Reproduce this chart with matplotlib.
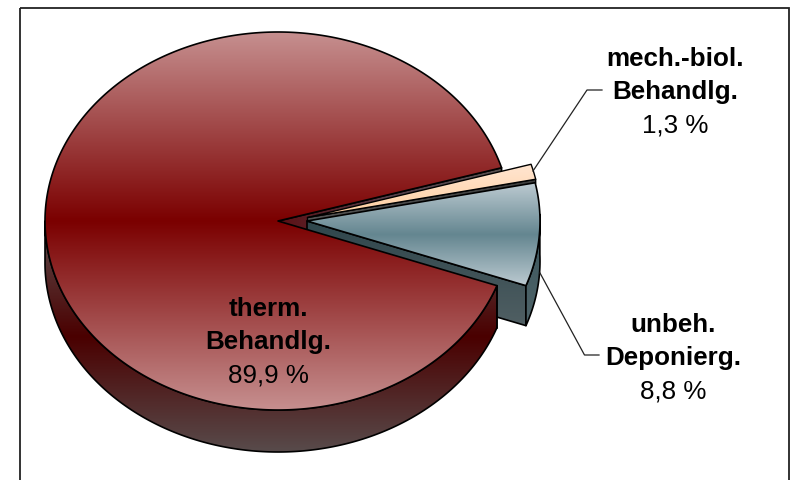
import numpy as np
import matplotlib
matplotlib.use("Agg")
import matplotlib.pyplot as plt
from matplotlib.colors import LinearSegmentedColormap as LSC
from matplotlib.patches import Polygon, Rectangle

plt.rcParams['font.family'] = ['Liberation Sans', 'DejaVu Sans']

# data
categories = ["unbeh.\nDeponierg.", "mech.-biol.\nBehandlg.", "therm.\nBehandlg."]
values = [8.8, 1.3, 89.9]
value_labels = ["8,8 %", "1,3 %", "89,9 %"]

START = -20.0
RX, RY = 233.0, 189.0
CENTERS = [(307, 221), (307.5, 217.5), (278, 221)]
DEPTH = [40, 4, 42]
LABEL_XY = [(673, 324.5), (675.5, 58.5), (268, 309)]

fig = plt.figure(figsize=(7.92, 4.8), dpi=100)
ax = fig.add_axes([0, 0, 1, 1])
ax.axis("off")


def arc(c, a0, a1, rx=RX, ry=RY):
    t = np.radians(np.linspace(a0, a1, max(int(abs(a1 - a0)) * 2, 8)))
    return np.column_stack([c[0] + rx * np.cos(t), c[1] - ry * np.sin(t)])


def shape(pts, colors, extent=None, lw=1.2, horizontal=False, z=1):
    pts = np.asarray(pts)
    if extent is None:
        extent = (pts[:, 0].min(), pts[:, 0].max(), pts[:, 1].max(), pts[:, 1].min())
    cmap = LSC.from_list("g", colors)
    g = np.linspace(0, 1, 256)
    g = g.reshape(1, -1) if horizontal else g.reshape(-1, 1)
    im = ax.imshow(g, cmap=cmap, extent=extent, aspect="auto", zorder=z,
                   origin="upper", interpolation="bilinear")
    clip = Polygon(pts, closed=True, transform=ax.transData, fc="none", ec="none")
    ax.add_patch(clip)
    im.set_clip_path(clip)
    ax.add_patch(Polygon(pts, closed=True, fc="none", ec="black", lw=lw, zorder=z,
                         joinstyle="round"))


def extruded(top, d):
    return np.vstack([top, (top + [0, d])[::-1]])


# angles from the values
edges = START + np.cumsum([0] + values) * 3.6
blue = (edges[0], edges[1])
peach = (edges[1], edges[2])
main = (edges[2], edges[3])
cb, cp, cm = CENTERS
db, dp, dm = DEPTH

# upper cut face of the big slice (visible through the notch)
tip = arc(cm, main[0], main[0] + 0.01)[0]
cut = extruded(np.array([cm, tip], float), dm)
shape(cut, ["#5c0f14", "#55404a", "#585050"], horizontal=True, z=1,
      extent=(cm[0], tip[0], cm[1] + dm, tip[1]))

# peach slice
p_tips = arc(cp, peach[0], peach[1])
p_top = np.vstack([[cp], p_tips])
p_front = extruded(np.array([cp, p_tips[0]], float), dp)
shape(p_front, ["#3c3c3c", "#555555"], z=2, lw=1.0)
shape(p_top, ["#ffe6d2", "#ffcf9f"], z=3, lw=1.0,
      extent=(cp[0], p_tips[:, 0].max(), cp[1], p_tips[:, 1].min()))

# blue slice sides
b_arc = arc(cb, blue[0], blue[1])
b_top = np.vstack([[cb], b_arc])
b_front = extruded(np.array([cb, b_arc[0]], float), db)
shape(b_front, ["#2f464c", "#505f63"], z=4)
b_outer = arc(cb, blue[0], min(blue[1], 2.0))
shape(extruded(b_outer, db), ["#39545b", "#4f6469"], z=4)

# big slice outer wall
m_front = arc(cm, 180, main[1])
shape(extruded(m_front, dm), ["#5f5050", "#4a0000", "#584b4b"], z=5)
ax.plot([m_front[-1, 0]] * 2, [m_front[-1, 1], m_front[-1, 1] + dm], color="black", lw=1.2, zorder=5)

# big slice top
m_top = np.vstack([[cm], arc(cm, main[0], main[1])])
shape(m_top, ["#c68f8f", "#7b0000", "#c68f8f"], z=6,
      extent=(cm[0] - RX, cm[0] + RX, cm[1] + RY, cm[1] - RY))

# blue top
shape(b_top, ["#bccad1", "#648690", "#bccad1"], z=7,
      extent=(cb[0], cb[0] + RX, b_arc[:, 1].max(), b_arc[:, 1].min()))

# leader lines
ax.plot([533, 587, 602], [171, 90, 90], color="#222222", lw=0.9, zorder=8)
ax.plot([540, 584.5, 599], [273, 355, 355], color="#222222", lw=0.9, zorder=8)

# labels
for cat, vl, (x, y) in zip(categories, value_labels, LABEL_XY):
    a, b = cat.split("\n")
    ax.text(x, y, a, ha="center", va="center", fontsize=18.7, fontweight="bold", color="black", zorder=9)
    ax.text(x, y + 33.5, b, ha="center", va="center", fontsize=18.7, fontweight="bold", color="black", zorder=9)
    ax.text(x, y + 67, vl, ha="center", va="center", fontsize=18.7, color="black", zorder=9)

# frame
ax.add_patch(Rectangle((20, 8), 769, 480, fc="none", ec="#222222", lw=1.3, zorder=10))

ax.set_xlim(0, 792)
ax.set_ylim(480, 0)
fig.savefig("out.png", dpi=100, facecolor="white")
